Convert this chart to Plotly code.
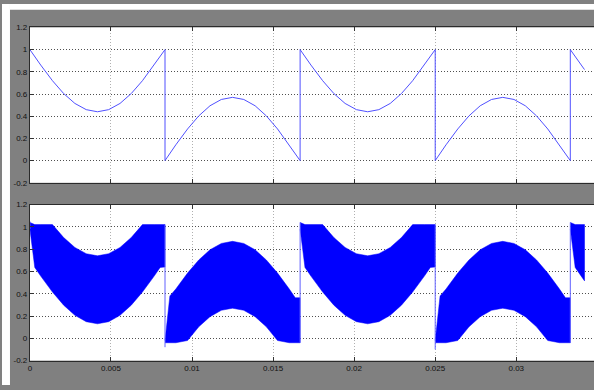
import plotly.graph_objects as go

# ---------------- data ----------------
# start times of each half-period segment and its shape type
seg_starts = [0.0, 0.008333, 0.016667, 0.025, 0.033333]
seg_types = ["A", "B", "A", "B", "A"]
seg_len = 0.008333
last_end = 0.03421

# sampling positions inside one segment (fraction of segment length)
frac = [0, 0.036, 0.08, 0.167, 0.25, 0.333, 0.417, 0.5,
        0.583, 0.667, 0.75, 0.833, 0.92, 0.964, 1.0]

# top scope: reference-like curve
top_A = [1.0, 0.937, 0.861, 0.72, 0.604, 0.515, 0.459, 0.44,
         0.459, 0.515, 0.604, 0.72, 0.861, 0.937, 1.0]
top_B = [0.0, 0.064, 0.142, 0.285, 0.403, 0.494, 0.551, 0.57,
         0.551, 0.494, 0.403, 0.285, 0.142, 0.064, 0.0]

# bottom scope: envelope of the fast switching signal
up_A = [1.04, 1.02, 1.02, 1.02, 0.904, 0.815, 0.759, 0.74,
        0.759, 0.815, 0.904, 1.02, 1.02, 1.02, 1.02]
lo_A = [0.98, 0.636, 0.558, 0.415, 0.297, 0.206, 0.149, 0.13,
        0.149, 0.206, 0.297, 0.415, 0.558, 0.636, 0.64]
up_B = [-0.02, 0.38, 0.442, 0.585, 0.703, 0.794, 0.851, 0.87,
        0.851, 0.794, 0.703, 0.585, 0.442, 0.364, 0.364]
lo_B = [-0.04, -0.04, -0.04, -0.02, 0.103, 0.194, 0.251, 0.27,
        0.251, 0.194, 0.103, -0.02, -0.04, -0.04, -0.04]

# final partial segment
last_frac = [0, 0.036, 0.08, 0.105]
top_last = [1.0, 0.937, 0.861, 0.82]
up_last = [1.04, 1.02, 1.02, 1.02]
lo_last = [0.98, 0.636, 0.558, 0.515]

# thin transition lines in bottom scope (time, low, high)
trans_t = [0.0, 0.008333, 0.016667, 0.025, 0.033333]
trans_lo = [0.98, -0.08, -0.04, -0.10, -0.04]
trans_hi = [1.05, 1.02, 1.04, 1.02, 1.04]

x_ticks = [0, 0.005, 0.01, 0.015, 0.02, 0.025, 0.03]
x_ticklabels = ["0", "0.005", "0.01", "0.015", "0.02", "0.025", "0.03"]
y_ticks = [-0.2, 0, 0.2, 0.4, 0.6, 0.8, 1.0, 1.2]
y_ticklabels = ["-0.2", "0", "0.2", "0.4", "0.6", "0.8", "1", "1.2"]

# ---------------- figure ----------------
fig = go.Figure()

shapes_top = {"A": top_A, "B": top_B}
env = {"A": (up_A, lo_A), "B": (up_B, lo_B)}

top_t, top_v = [], []
for i, (s, kind) in enumerate(zip(seg_starts, seg_types)):
    if i < len(seg_starts) - 1:
        ts = [s + f * seg_len for f in frac]
        tv = shapes_top[kind]
        up, lo = env[kind]
    else:
        ts = [s + f * seg_len for f in last_frac]
        ts[-1] = last_end
        tv = top_last
        up, lo = up_last, lo_last
    top_t += ts
    top_v += tv
    fig.add_trace(go.Scatter(
        x=ts + ts[::-1], y=up + lo[::-1], xaxis="x2", yaxis="y2",
        mode="lines", fill="toself", fillcolor="#0000ff",
        line=dict(color="#0000ff", width=0.5), hoverinfo="skip",
        showlegend=False))

fig.add_trace(go.Scatter(x=top_t, y=top_v, xaxis="x", yaxis="y", mode="lines",
                         line=dict(color="#5050ff", width=1), showlegend=False))

lx, ly = [], []
for t, a, b in zip(trans_t, trans_lo, trans_hi):
    lx += [t, t, None]
    ly += [a, b, None]
fig.add_trace(go.Scatter(x=lx, y=ly, xaxis="x2", yaxis="y2", mode="lines",
                         line=dict(color="#6060ff", width=1), showlegend=False))

W, H = 594, 390
xr = [0, (W - 28) / 16267]

common_x = dict(range=xr, tickvals=x_ticks, ticktext=x_ticklabels,
                showgrid=True, gridcolor="#b0b0b0", griddash="1px,2px", gridwidth=1,
                ticks="inside", ticklen=4, tickcolor="#333333",
                showline=True, linecolor="#2b2b2b", linewidth=1,
                mirror="allticks", zeroline=False, domain=[28 / W, 1.0])
common_y = dict(range=[-0.2, 1.2], tickvals=y_ticks, ticktext=y_ticklabels,
                showgrid=True, gridcolor="#505050", griddash="1px,2px", gridwidth=1,
                ticks="inside", ticklen=4, tickcolor="#333333",
                showline=True, linecolor="#2b2b2b", linewidth=1,
                mirror=False, zeroline=False)

fig.update_layout(
    width=W, height=H, showlegend=False,
    margin=dict(l=0, r=0, t=0, b=0),
    paper_bgcolor="#808080", plot_bgcolor="#ffffff",
    font=dict(family="Liberation Sans Narrow, Liberation Sans, Arial",
              size=8, color="#111111"),
    xaxis=dict(anchor="y", showticklabels=False, **common_x),
    yaxis=dict(anchor="x", domain=[(H - 183) / H, (H - 24) / H], **common_y),
    xaxis2=dict(anchor="y2", showticklabels=True, **common_x),
    yaxis2=dict(anchor="x2", domain=[(H - 365) / H, (H - 205.3) / H], **common_y),
    shapes=[
        dict(type="rect", xref="paper", yref="paper", x0=0, x1=8 / W, y0=0, y1=1,
             fillcolor="#ffffff", line=dict(width=0), layer="below"),
        dict(type="rect", xref="paper", yref="paper", x0=8 / W, x1=1, y0=(H - 6) / H, y1=1,
             fillcolor="#ffffff", line=dict(width=0), layer="below"),
    ],
)

fig.write_html("out.html")
